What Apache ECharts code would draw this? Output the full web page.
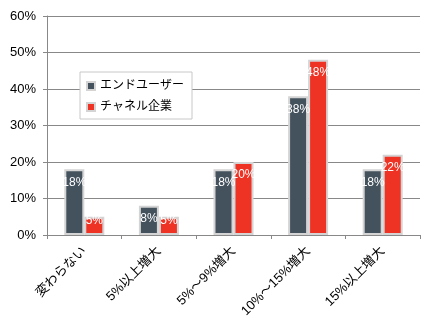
<!DOCTYPE html>
<html><head><meta charset="utf-8">
<script src="https://cdn.jsdelivr.net/npm/echarts@6/dist/echarts.min.js"></script>
<style>html,body{margin:0;padding:0;background:#fff}#c{width:436px;height:331px}</style>
</head><body><div id="c"></div>
<script>
const categories = ['変わらない', '5%以上増大', '5%～9%増大', '10%～15%増大', '15%以上増大'];
const seriesNames = ['エンドユーザー', 'チャネル企業'];
const endUser = [18, 8, 18, 38, 18];
const channel = [5, 5, 20, 48, 22];
const yTicks = [0, 10, 20, 30, 40, 50, 60];

const font = '"Liberation Sans", Arial, "Noto Sans CJK JP", sans-serif';
const chart = echarts.init(document.getElementById('c'));
function mk(name, data, color) {
  return {
    name, type: 'bar', barWidth: 20, barGap: '0%',
    data: data.map(v => v < 7 ? { value: v, label: { offset: [0, -9] } } : v),
    itemStyle: { color, borderColor: '#d4d4d4', borderWidth: 2 },
    label: { show: true, position: 'insideTop', distance: 7, formatter: '{c}%', color: '#fff', fontSize: 12, fontFamily: font },
    emphasis: { disabled: true }
  };
}
chart.setOption({
  animation: false,
  textStyle: { fontFamily: font },
  grid: { left: 47, right: 16, top: 16, bottom: 96 },
  legend: {
    orient: 'vertical', left: 80, top: 72, padding: [8, 8, 6, 6], itemGap: 9,
    backgroundColor: '#fff', borderColor: '#c8c8c8', borderWidth: 1,
    icon: 'rect', itemWidth: 8, itemHeight: 8,
    textStyle: { fontSize: 12, color: '#000', fontFamily: font },
    data: seriesNames
  },
  xAxis: {
    type: 'category', data: categories,
    axisLine: { lineStyle: { color: '#888' } },
    axisTick: { show: true, alignWithLabel: false, length: 4, lineStyle: { color: '#888' } },
    axisLabel: { rotate: 45, fontSize: 13, color: '#000', margin: 14, interval: 0 }
  },
  yAxis: {
    type: 'value', min: 0, max: 60, interval: 10,
    axisLine: { show: true, lineStyle: { color: '#888' } },
    axisTick: { show: true, length: 4, lineStyle: { color: '#888' } },
    splitLine: { lineStyle: { color: '#888' } },
    axisLabel: { fontSize: 13, color: '#000', margin: 11, formatter: v => yTicks.includes(v) ? v + '%' : '' }
  },
  series: [mk(seriesNames[0], endUser, '#44525e'), mk(seriesNames[1], channel, '#ee3224')]
});
</script></body></html>
